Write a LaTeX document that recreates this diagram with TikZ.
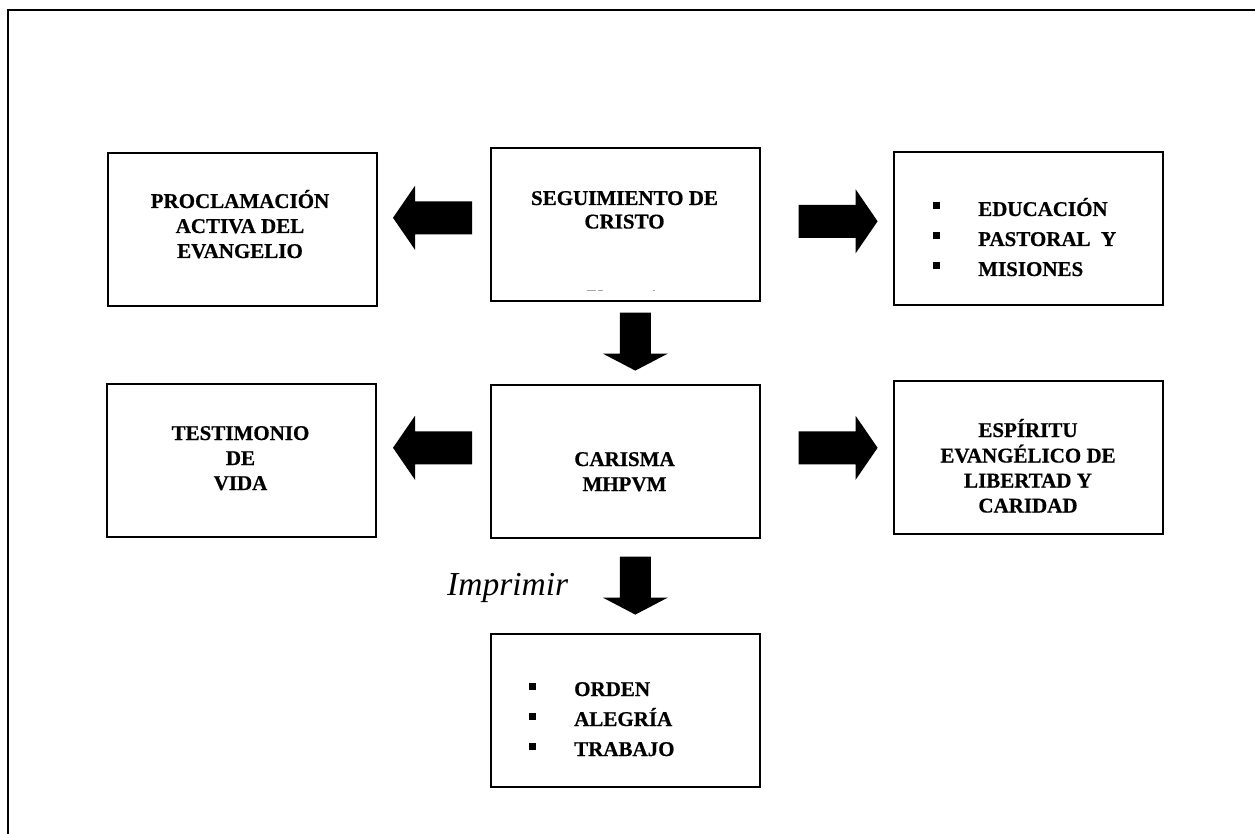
\documentclass[tikz,border=0pt]{standalone}
\usepackage{fontspec}
\setmainfont{Liberation Serif}[BoldFeatures={FakeBold=0.6}]
\usetikzlibrary{calc}
\newcommand\sqbullet{\raisebox{6.5pt}{\rule{7pt}{7pt}}}
\tikzset{
  box/.style={draw, line width=1.6pt, minimum width=269pt, minimum height=153pt,
    inner sep=0pt, anchor=north west},
  lbl/.style={anchor=base, inner sep=0pt, font=\bfseries\fontsize{21}{25}\selectfont},
  lst/.style={anchor=base west, inner sep=0pt, font=\bfseries\fontsize{21}{30}\selectfont},
  harrow/.pic={\fill (0,-16.5) -- (57,-16.5) -- (57,-32) -- (79,0) -- (57,32)
    -- (57,16.5) -- (0,16.5) -- cycle;},
  varrow/.pic={\fill (0,-15.5) -- (41,-15.5) -- (41,-32.5) -- (58,0) -- (41,32.5)
    -- (41,15.5) -- (0,15.5) -- cycle;},
}
\begin{document}
\begin{tikzpicture}[x=1pt,y=-1pt]
\useasboundingbox (0,0) rectangle (1255,834);

% page frame
\draw[line width=2pt] (8,834) -- (8,10) -- (1255,10);

% boxes
\node[box] (seg)  at (490,147) {};
\node[box] (proc) at (107,152) {};
\node[box] (edu)  at (893,151) {};
\node[box] (car)  at (490,384) {};
\node[box] (test) at (106,383) {};
\node[box] (esp)  at (893,380) {};
\node[box] (ord)  at (490,633) {};

% box texts
\node[lbl, font=\bfseries\fontsize{21}{23.5}\selectfont] (tseg) at (624.5,205)
  {\begin{tabular}[t]{@{}c@{}}SEGUIMIENTO DE\\CRISTO\end{tabular}};
\node[lbl] (tproc) at (240,208)
  {\begin{tabular}[t]{@{}c@{}}PROCLAMACIÓN\\ACTIVA DEL\\EVANGELIO\end{tabular}};
\node[lbl] (tcar) at (624.5,466)
  {\begin{tabular}[t]{@{}c@{}}CARISMA\\MHPVM\end{tabular}};
\node[lbl] (ttest) at (240.5,440)
  {\begin{tabular}[t]{@{}c@{}}TESTIMONIO\\DE\\VIDA\end{tabular}};
\node[lbl] (tesp) at (1028,437)
  {\begin{tabular}[t]{@{}c@{}}ESPÍRITU\\EVANGÉLICO DE\\LIBERTAD Y\\CARIDAD\end{tabular}};
\node[lst] (tedu) at (933,216)
  {\begin{tabular}[t]{@{}l@{\hspace{38pt}}l@{}}\sqbullet & EDUCACIÓN\\
   \sqbullet & PASTORAL\ \ Y\\ \sqbullet & MISIONES\end{tabular}};
\node[lst] (tord) at (529,696)
  {\begin{tabular}[t]{@{}l@{\hspace{38pt}}l@{}}\sqbullet & ORDEN\\
   \sqbullet & ALEGRÍA\\ \sqbullet & TRABAJO\end{tabular}};

% faint clipped marks at the foot of the top box
\draw[gray!70, line width=1pt] ($(seg.south)+(-38.5,-11)$) -- ++(9,0);
\draw[gray!70, line width=1pt] ($(seg.south)+(-27.5,-11)$) -- ++(5,0);
\draw[gray!70, line width=1pt] ($(seg.south)+(27.5,-11)$) -- ++(2,0);

% block arrows
\pic[rotate=180] at ($(seg.west)+(-18,-6.5)$) {harrow};
\pic at ($(seg.east)+(38,-3)$) {harrow};
\pic[rotate=-90] at ($(seg.south)+(10,11)$) {varrow};
\pic[rotate=180] at ($(car.west)+(-18,-13.5)$) {harrow};
\pic at ($(car.east)+(38,-13.5)$) {harrow};
\pic[rotate=-90] at ($(car.south)+(10,18)$) {varrow};

% arrow label
\node[anchor=base west, inner sep=0pt, font=\itshape\fontsize{33.5}{38}\selectfont]
  (imp) at (447,595) {Imprimir};
\end{tikzpicture}
\end{document}
